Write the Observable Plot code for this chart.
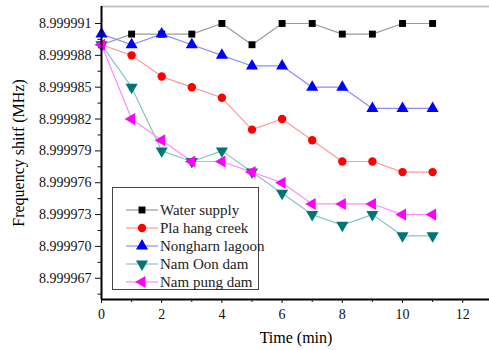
<!DOCTYPE html>
<html><head><meta charset="utf-8">
<script src="https://cdn.jsdelivr.net/npm/d3@7"></script>
<script src="https://cdn.jsdelivr.net/npm/@observablehq/plot@0.6"></script>
<style>
body{margin:0;background:#fff;}
#wrap{position:relative;width:489px;height:350px;font-family:"Liberation Serif","Times New Roman",Tinos,"DejaVu Serif",serif;}
#legend{position:absolute;left:112px;top:187px;width:147px;height:103px;border:1px solid #444;background:#fff;box-sizing:border-box;padding-top:13px;}
.row{height:18px;display:flex;align-items:center;font-size:15px;color:#222;white-space:nowrap;}
.row svg{margin-left:13px;margin-right:2px;flex:none;}
</style></head>
<body><div id="wrap"><div id="chart"></div><div id="legend"></div></div>
<script>
const time = [0,1,2,3,4,5,6,7,8,9,10,11];
const waterSupply   = [8.999989,8.999990,8.999990,8.999990,8.999991,8.999989,8.999991,8.999991,8.999990,8.999990,8.999991,8.999991];
const plaHangCreek  = [8.999989,8.999988,8.999986,8.999985,8.999984,8.999981,8.999982,8.999980,8.999978,8.999978,8.999977,8.999977];
const nongharnLagoon= [8.999990,8.999989,8.999990,8.999989,8.999988,8.999987,8.999987,8.999985,8.999985,8.999983,8.999983,8.999983];
const namOonDam     = [8.999989,8.999985,8.999979,8.999978,8.999979,8.999977,8.999975,8.999973,8.999972,8.999973,8.999971,8.999971];
const namPungDam    = [8.999989,8.999982,8.999980,8.999978,8.999978,8.999977,8.999976,8.999974,8.999974,8.999974,8.999973,8.999973];
const seriesNames = ["Water supply","Pla hang creek","Nongharn lagoon","Nam Oon dam","Nam pung dam"];
const yTicks = ["8.999967","8.999970","8.999973","8.999976","8.999979","8.999982","8.999985","8.999988","8.999991"];
const xTicks = [0,2,4,6,8,10,12];

const FONT = "'Liberation Serif','Times New Roman',Tinos,'DejaVu Serif',serif";

const triDown = {draw(c, size){const s=Math.sqrt(size/(Math.sqrt(3)/4)); const h=s*Math.sqrt(3)/2; c.moveTo(-s/2,-h/3); c.lineTo(s/2,-h/3); c.lineTo(0,2*h/3); c.closePath();}};
const triLeft = {draw(c, size){const s=Math.sqrt(size/(Math.sqrt(3)/4)); const h=s*Math.sqrt(3)/2; c.moveTo(-2*h/3,0); c.lineTo(h/3,-s/2); c.lineTo(h/3,s/2); c.closePath();}};
const triUp = {draw(c, size){const s=Math.sqrt(size/(Math.sqrt(3)/4)); const h=s*Math.sqrt(3)/2; c.moveTo(0,-2*h/3); c.lineTo(s/2,h/3); c.lineTo(-s/2,h/3); c.closePath();}};
const square = {draw(c,size){const s=Math.sqrt(size); c.rect(-s/2,-s/2,s,s);}};
const circle = {draw(c,size){const r=Math.sqrt(size/Math.PI); c.moveTo(r,0); c.arc(0,0,r,0,2*Math.PI);}};

const styles = [
  {vals: waterSupply, fill:"#000000", line:"#9a9a9a", sym:square, r:3.9},
  {vals: plaHangCreek, fill:"#ff0000", line:"#ff9a9a", sym:circle, r:4.2},
  {vals: nongharnLagoon, fill:"#0000ff", line:"#8c8cff", sym:triUp, r:4.5},
  {vals: namOonDam, fill:"#007575", line:"#8cc4c4", sym:triDown, r:4.5},
  {vals: namPungDam, fill:"#ff00ff", line:"#ff8cff", sym:triLeft, r:4.5}
];

const yMin = 8.999965, yMax = 8.9999926;
const yMajor = yTicks.map(Number);
const yMinor = d3.range(0, 18).map(i => 8.9999655 + i*1.5e-6).filter(v => v < yMax && !yMajor.some(m => Math.abs(m - v) < 1e-8));
const xMinor = [1,3,5,7,9,11];

const marks = [];
styles.forEach(s => {
  const data = time.map((t, i) => ({t, v: s.vals[i]}));
  marks.push(Plot.line(data, {x:"t", y:"v", stroke:s.line, strokeWidth:1.2}));
});
styles.forEach(s => {
  const data = time.map((t, i) => ({t, v: s.vals[i]}));
  marks.push(Plot.dot(data, {x:"t", y:"v", fill:s.fill, stroke:"none", symbol:s.sym, r:s.r}));
});
marks.push(Plot.ruleY([yMax], {stroke:"#c4c4c4", strokeWidth:2}));
marks.push(Plot.ruleX([0], {stroke:"#000", strokeWidth:2}));
marks.push(Plot.ruleY([yMin], {stroke:"#000", strokeWidth:2}));
marks.push(Plot.axisY(yMajor, {tickSize:6, tickPadding:4, tickFormat:d3.format(".6f"), fontSize:14}));
marks.push(Plot.axisY(yMinor, {tickSize:3.5, tickFormat:() => ""}));
marks.push(Plot.axisX(xTicks, {tickSize:4, tickPadding:6, fontSize:14}));
marks.push(Plot.axisX(xMinor, {tickSize:3, tickFormat:() => ""}));

const chart = Plot.plot({
  width:489, height:350,
  marginLeft:101, marginTop:6, marginRight:0, marginBottom:51,
  style:{fontFamily:FONT, fontSize:"14px", color:"#111", background:"#fff"},
  x:{domain:[0,12.89], label:null},
  y:{domain:[yMin,yMax], label:null},
  marks
});
document.getElementById("chart").appendChild(chart);
d3.select(chart).selectAll("text").style("font-family", FONT);

const svg = d3.select(chart);
svg.append("text").attr("transform","translate(24,153) rotate(-90)").attr("text-anchor","middle")
  .style("font-size","16px").style("font-family",FONT).attr("fill","#000").text("Frequency shitf (MHz)");
svg.append("text").attr("x",296).attr("y",343).attr("text-anchor","middle")
  .style("font-size","16px").style("font-family",FONT).attr("fill","#000").text("Time (min)");

const leg = d3.select("#legend");
styles.forEach((s, k) => {
  const row = leg.append("div").attr("class","row");
  const sv = row.append("svg").attr("width",32).attr("height",14);
  sv.append("line").attr("x1",0).attr("x2",32).attr("y1",7).attr("y2",7).attr("stroke",s.line).attr("stroke-width",1.2);
  sv.append("path").attr("transform","translate(16,7)").attr("fill",s.fill)
    .attr("d", d3.symbol(s.sym, Math.PI*s.r*s.r)());
  row.append("span").style("font-family",FONT).text(seriesNames[k]);
});
</script></body></html>
